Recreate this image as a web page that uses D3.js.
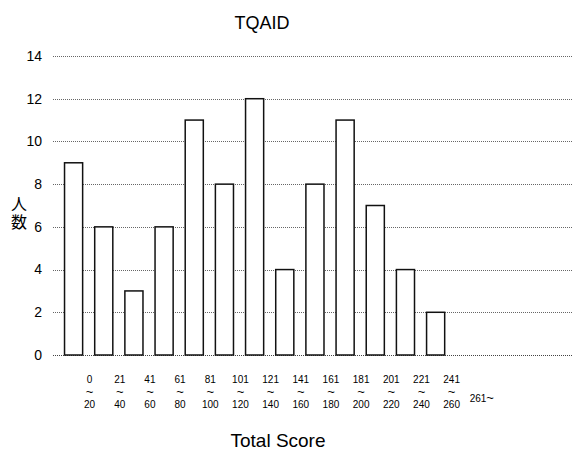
<!DOCTYPE html>
<html>
<head>
<meta charset="utf-8">
<script src="https://cdn.jsdelivr.net/npm/d3@7"></script>
<style>
body { margin:0; background:#fff; }
text { font-family: "Liberation Sans", Arial, sans-serif; fill:#000; }
</style>
</head>
<body>
<script>
var categories = ["0~20","21~40","41~60","61~80","81~100","101~120","121~140",
                  "141~160","161~180","181~200","201~220","221~240","241~260","261~"];
var counts = [9, 6, 3, 6, 11, 8, 12, 4, 8, 11, 7, 4, 2, 0];
var yTicks = [0, 2, 4, 6, 8, 10, 12, 14];

var totalWidth = 572;
var totalHeight = 462;
var margin = {top:56, left:58.5, bottom:107, right:0};
var plotTop = 56, plotBottom = 355;

var svg = d3.select("body").append("svg")
  .attr("width", totalWidth)
  .attr("height", totalHeight);

var x = d3.scaleBand()
  .domain(categories)
  .range([margin.left, margin.left + 14 * 30.17])
  .paddingInner(0.4)
  .paddingOuter(0.2);

var y = d3.scaleLinear()
  .domain([0, 14])
  .range([plotBottom, plotTop]);

// gridlines (dotted)
svg.append("g").selectAll("line")
  .data(yTicks)
  .enter().append("line")
  .attr("x1", 53)
  .attr("x2", totalWidth)
  .attr("y1", function(d) { return Math.round(y(d)) + 0.5; })
  .attr("y2", function(d) { return Math.round(y(d)) + 0.5; })
  .attr("stroke", function(d) { return d == 0 ? "#444" : "#666"; })
  .attr("stroke-width", 1)
  .attr("stroke-dasharray", "1,1");

// y tick labels
svg.append("g").selectAll("text")
  .data(yTicks)
  .enter().append("text")
  .attr("x", 42)
  .attr("y", function(d) { return y(d); })
  .attr("dy", "0.35em")
  .attr("text-anchor", "end")
  .attr("font-size", "14px")
  .text(function(d) { return d; });

// bars
svg.selectAll(".bar")
  .data(categories.map(function(c, i) { return {cat:c, valor:counts[i]}; })
        .filter(function(d) { return d.valor > 0; }))
  .enter().append("rect")
  .attr("class", "bar")
  .attr("x", function(d) { return x(d.cat); })
  .attr("width", x.bandwidth())
  .attr("y", function(d) { return y(d.valor); })
  .attr("height", function(d) { return y(0) - y(d.valor); })
  .attr("fill", "#fff")
  .attr("stroke", "#111")
  .attr("stroke-width", 1.5);

// x category labels (set off to the right of the bars like the original)
var lab = svg.append("g").selectAll("g")
  .data(categories)
  .enter().append("g")
  .attr("transform", function(d) {
    return "translate(" + (x(d) + x.bandwidth() / 2 + 16) + ",0)";
  });

lab.each(function(d) {
  var parts = d.split("~");
  var g = d3.select(this);
  if (parts[1] == "") {
    g.append("text").attr("y", 402).attr("text-anchor", "middle")
      .attr("font-size", "10px")
      .text(parts[0])
      .append("tspan").attr("font-size", "13px").text("~");
  } else {
    g.append("text").attr("y", 383).attr("text-anchor", "middle")
      .attr("font-size", "10px").text(parts[0]);
    g.append("text").attr("y", 396).attr("text-anchor", "middle")
      .attr("font-size", "13px").text("~");
    g.append("text").attr("y", 408).attr("text-anchor", "middle")
      .attr("font-size", "10px").text(parts[1]);
  }
});

// title
svg.append("text")
  .attr("x", 262)
  .attr("y", 29)
  .attr("text-anchor", "middle")
  .attr("font-size", "18px")
  .text("TQAID");

// axis titles
svg.append("text")
  .attr("x", 278)
  .attr("y", 447)
  .attr("text-anchor", "middle")
  .attr("font-size", "19px")
  .text("Total Score");

// vertical "人数"
svg.append("text")
  .attr("x", 19)
  .attr("y", 196)
  .attr("font-size", "16px")
  .style("writing-mode", "vertical-rl")
  .style("letter-spacing", "2px")
  .style("font-family", "'Noto Sans CJK JP', sans-serif")
  .text("人数");
</script>
</body>
</html>
